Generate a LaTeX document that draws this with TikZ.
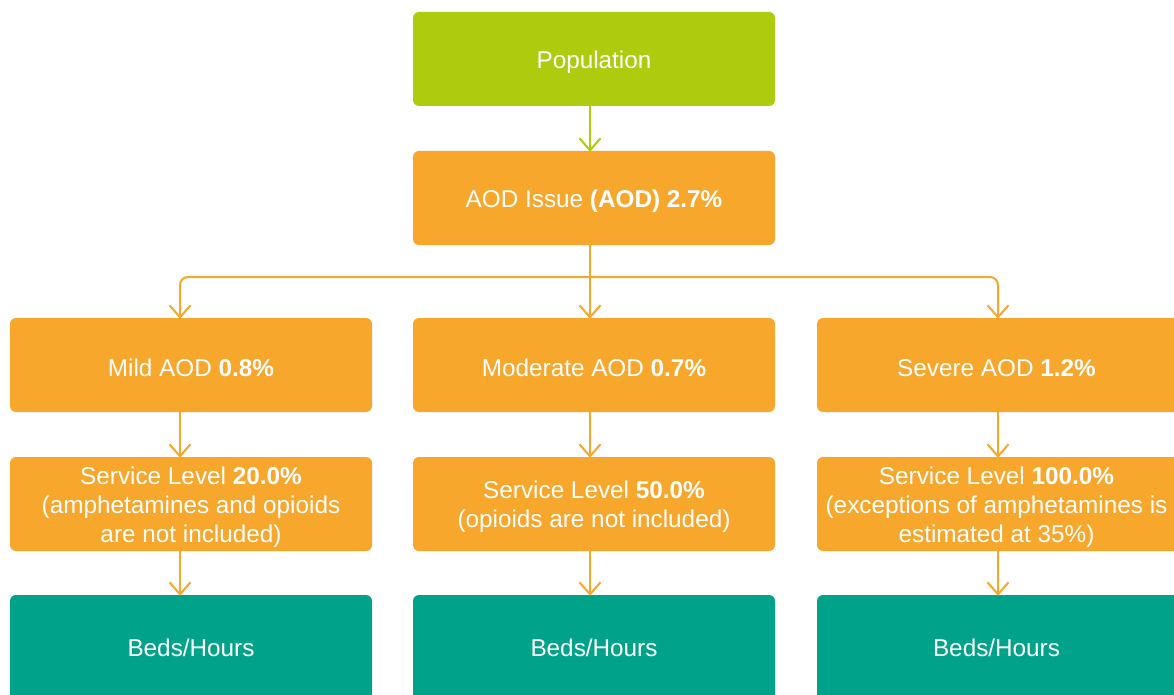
\documentclass[tikz,border=0pt]{standalone}
\usepackage{fontspec}
\setmainfont{Liberation Sans}
\usetikzlibrary{arrows.meta,calc}
\definecolor{popgreen}{HTML}{AECB0E}
\definecolor{aodorange}{HTML}{F6A72C}
\definecolor{bedteal}{HTML}{00A389}
\tikzset{
  box/.style={rectangle, rounded corners=6pt, minimum width=362pt, minimum height=94pt,
    inner sep=0pt},
  txt/.style={text=white, align=center, inner sep=0pt, yshift=-3pt,
    font=\fontsize{24.3pt}{29pt}\selectfont},
  popbox/.style={box, fill=popgreen},
  orbox/.style={box, fill=aodorange},
  bedbox/.style={box, fill=bedteal, minimum height=106pt},
  barbtip/.tip={Straight Barb[length=12pt,width=21pt,line width=2pt]},
  conn/.style={line width=2pt, -{barbtip}},
  gconn/.style={conn, draw=popgreen},
  oconn/.style={conn, draw=aodorange},
}
\begin{document}
\begin{tikzpicture}[x=1pt,y=-1pt]
\useasboundingbox (0,0) rectangle (1174,695);
\clip (0,0) rectangle (1174,695);
\fill[white] (0,0) rectangle (1174,695);
\coordinate (xl) at (180,0);
\coordinate (xm) at (590,0);
\coordinate (xr) at (998,0);
\coordinate (yb) at (0,277);

\node[popbox, label={[txt]center:Population}] (pop) at (594,59) {};
\node[orbox, label={[txt]center:AOD Issue \textbf{(AOD) 2.7\%}}] (aod) at (594,198) {};

\node[orbox, label={[txt]center:Mild AOD \textbf{0.8\%}}] (l3) at (191,365) {};
\node[orbox, label={[txt]center:Moderate AOD \textbf{0.7\%}}] (m3) at (594,365) {};
\node[orbox, minimum width=363pt, label={[txt, xshift=-2pt]center:Severe AOD \textbf{1.2\%}}] (r3) at (998.5,365) {};

\node[orbox, label={[txt]center:Service Level \textbf{20.0\%}\\(amphetamines and opioids\\are not included)}] (l4) at (191,504) {};
\node[orbox, label={[txt]center:Service Level \textbf{50.0\%}\\(opioids are not included)}] (m4) at (594,504) {};
\node[orbox, minimum width=363pt, label={[txt, xshift=-2pt]center:Service Level \textbf{100.0\%}\\(exceptions of amphetamines is\\estimated at 35\%)}] (r4) at (998.5,504) {};

\node[bedbox, label={[txt, yshift=3pt]center:Beds/Hours}] (l5) at (191,648) {};
\node[bedbox, label={[txt, yshift=3pt]center:Beds/Hours}] (m5) at (594,648) {};
\node[bedbox, minimum width=363pt, label={[txt, yshift=3pt, xshift=-2pt]center:Beds/Hours}] (r5) at (998.5,648) {};

\draw[gconn] (pop.south -| xm) -- ([yshift=-1pt]aod.north -| xm);
\draw[oconn] (aod.south -| xm) -- ([yshift=-1pt]m3.north -| xm);
\draw[line width=2pt, draw=aodorange, rounded corners=8pt, {barbtip}-{barbtip}]
  ([yshift=-1pt]l3.north -| xl) -- (xl |- yb) -- (xr |- yb) -- ([yshift=-1pt]r3.north -| xr);

\draw[oconn] (l3.south -| xl) -- ([yshift=-1pt]l4.north -| xl);
\draw[oconn] (m3.south -| xm) -- ([yshift=-1pt]m4.north -| xm);
\draw[oconn] (r3.south -| xr) -- ([yshift=-1pt]r4.north -| xr);

\draw[oconn] (l4.south -| xl) -- ([yshift=-1pt]l5.north -| xl);
\draw[oconn] (m4.south -| xm) -- ([yshift=-1pt]m5.north -| xm);
\draw[oconn] (r4.south -| xr) -- ([yshift=-1pt]r5.north -| xr);
\end{tikzpicture}
\end{document}
